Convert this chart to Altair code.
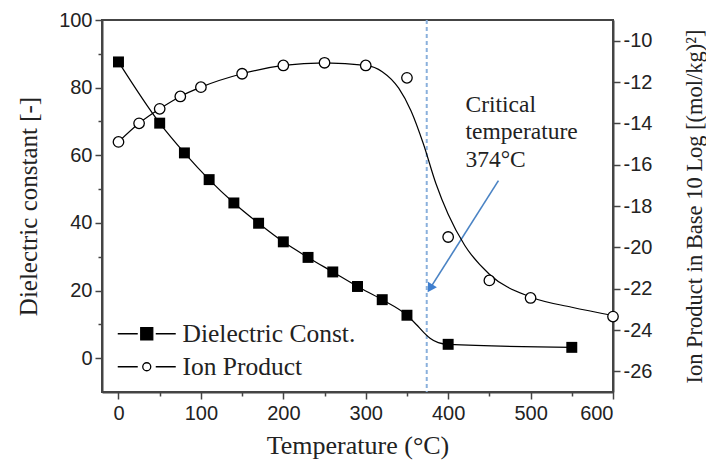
import altair as alt
import pandas as pd

# ---- data ----
diel_T = [0, 50, 80, 110, 140, 170, 200, 230, 260, 290, 320, 350, 400, 550]
diel_val = [87.6, 69.5, 60.7, 52.8, 45.9, 39.9, 34.4, 29.8, 25.5, 21.2, 17.3, 12.7, 4.1, 3.2]

# smooth fitted curve through dielectric points (extra points)
diel_curve_T = [0, 50, 80, 110, 140, 170, 200, 230, 260, 290, 320, 350, 362, 370, 378, 388, 400, 550]
diel_curve_val = [87.6, 69.5, 60.7, 52.8, 45.9, 39.9, 34.4, 29.8, 25.5, 21.2, 17.3, 12.7, 9.8, 7.7, 5.9, 4.6, 4.1, 3.2]

ion_T = [0, 25, 50, 75, 100, 150, 200, 250, 300, 350, 400, 450, 500, 600]
ion_val = [-14.9, -14.0, -13.3, -12.7, -12.25, -11.6, -11.2, -11.07, -11.2, -11.8, -19.5, -21.6, -22.45, -23.35]

ion_curve_T = [0, 25, 50, 75, 100, 150, 200, 250, 300, 320, 340, 355, 370, 385, 400, 420, 450, 500, 550, 600]
ion_curve_val = [-14.9, -14.0, -13.3, -12.7, -12.25, -11.6, -11.2, -11.07, -11.2, -11.5, -12.3, -13.4, -15.0, -16.9, -18.4, -19.9, -21.3, -22.4, -22.9, -23.3]

series_names = ["Dielectric Const.", "Ion Product"]

critical_T = [374]
annot_lines = ["Critical", "temperature", "374°C"]
annot_T = [421, 421, 421]
annot_y = [75.0, 67.0, 58.7]
arrow_T = [461]
arrow_y = [52.5]
arrow_T2 = [379]
arrow_y2 = [21.0]

# ---- tables ----
diel_pts = pd.DataFrame({"T": diel_T, "v": diel_val, "series": series_names[0]})
diel_curve = pd.DataFrame({"T": diel_curve_T, "v": diel_curve_val})
ion_pts = pd.DataFrame({"T": ion_T, "v": ion_val})
ion_curve = pd.DataFrame({"T": ion_curve_T, "v": ion_curve_val})
crit = pd.DataFrame({"T": critical_T})
annot = pd.DataFrame({"T": annot_T, "v": annot_y, "t": annot_lines})
arrow = pd.DataFrame({"T": arrow_T, "v": arrow_y, "T2": arrow_T2, "v2": arrow_y2})

SERIF = "Liberation Serif"
SANS = "Liberation Sans"
AX = "#444444"

xscale = alt.Scale(domain=[-20, 600], nice=False, zero=False)
yl_scale = alt.Scale(domain=[-10, 100], nice=False, zero=False)
yr_scale = alt.Scale(domain=[-27, -9], nice=False, zero=False)

x_axis = alt.Axis(
    orient="bottom", values=list(range(0, 601, 50)), grid=False,
    labelExpr="datum.value % 100 === 0 ? datum.label : ''",
    tickSize={"condition": {"test": "datum.value % 100 !== 0", "value": 4}, "value": 7},
    labelFont=SANS, labelFontSize=20, labelColor="#222", labelPadding=4,
    title="Temperature (°C)", titleFont=SERIF, titleFontSize=26, titleFontWeight="normal",
    titleColor="#222", titlePadding=9,
    domainColor=AX, domainWidth=2, tickColor=AX, tickWidth=1.5,
)
yl_axis = alt.Axis(
    orient="left", values=list(range(0, 101, 10)), grid=False,
    labelExpr="datum.value % 20 === 0 ? datum.label : ''",
    tickSize={"condition": {"test": "datum.value % 20 !== 0", "value": 4}, "value": 7},
    labelFont=SANS, labelFontSize=20, labelColor="#222", labelPadding=3,
    title="Dielectric constant [-]", titleFont=SERIF, titleFontSize=25, titleFontWeight="normal",
    titleColor="#222", titleX=-74, titleY=186, titleAngle=270,
    titleAlign="center", titleBaseline="middle",
    domainColor=AX, domainWidth=2, tickColor=AX, tickWidth=1.5,
)
yr_axis = alt.Axis(
    orient="right", values=list(range(-26, -9, 2)), grid=False,
    labelExpr="datum.value < 0 ? '-' + abs(datum.value) : '' + datum.value",
    tickSize=7,
    labelFont=SANS, labelFontSize=20, labelColor="#222", labelPadding=3,
    title="Ion Product in Base 10 Log [(mol/kg)²]", titleFont=SERIF, titleFontSize=22.5,
    titleFontWeight="normal", titleColor="#222", titleX=81, titleY=186, titleAngle=270,
    titleAlign="center", titleBaseline="middle",
    domainColor=AX, domainWidth=2, tickColor=AX, tickWidth=1.5,
)

X = alt.X("T:Q", scale=xscale, axis=x_axis)
YL = alt.Y("v:Q", scale=yl_scale, axis=yl_axis)
YR = alt.Y("v:Q", scale=yr_scale, axis=yr_axis)

# legend-only symbols: dash-marker-dash
sq_path = "M-2.9,0H-0.9M-0.6,-0.6H0.6V0.6H-0.6ZM0.9,0H2.9"
ci_path = "M-2.9,0H-0.9M0.4,0A0.4,0.4,0,1,1,-0.4,0A0.4,0.4,0,1,1,0.4,0ZM0.9,0H2.9"

legend = alt.Legend(
    title=None, orient="none", legendX=32, legendY=301, padding=0,
    labelFont=SERIF, labelFontSize=25.5, labelColor="#222", labelOffset=23, labelLimit=400,
    symbolSize=400, symbolStrokeWidth=1.3,
    symbolOpacity=1, rowPadding=6,
)

diel_line = alt.Chart(diel_curve).mark_line(
    color="black", strokeWidth=1.2, interpolate="monotone"
).encode(x=X, y=YL)

diel_marks = alt.Chart(diel_pts).mark_point(
    shape="square", filled=True, color="black", size=120, opacity=1
).encode(x=X, y=YL)

legend_layer = alt.Chart(diel_pts).mark_point(
    strokeWidth=1.3, opacity=0, size=400
).encode(
    x=X, y=YL,
    shape=alt.Shape("series:N", scale=alt.Scale(domain=series_names, range=[sq_path, ci_path]), legend=legend),
    fill=alt.Fill("series:N", scale=alt.Scale(domain=series_names, range=["black", "white"]), legend=legend),
    stroke=alt.Stroke("series:N", scale=alt.Scale(domain=series_names, range=["black", "black"]), legend=legend),
)

crit_rule = alt.Chart(crit).mark_rule(
    color="#8ab0dc", strokeWidth=2, strokeDash=[4, 3]
).encode(x=X)

arrow_line = alt.Chart(arrow).mark_rule(color="#4a83c4", strokeWidth=1.6).encode(
    x=X, x2="T2:Q", y=YL, y2="v2:Q",
)
arrow_head = alt.Chart(arrow).mark_point(
    shape="triangle", filled=True, color="#3f7fcf", size=110, angle=212, opacity=1
).encode(x=alt.X("T2:Q", scale=xscale, axis=x_axis), y=alt.Y("v2:Q", scale=yl_scale, axis=yl_axis))

annot_text = alt.Chart(annot).mark_text(
    font=SERIF, fontSize=23.5, color="#222", align="left", baseline="middle"
).encode(x=X, y=YL, text="t:N")

left = alt.layer(crit_rule, diel_line, diel_marks, legend_layer, arrow_line, arrow_head, annot_text)

ion_line = alt.Chart(ion_curve).mark_line(
    color="black", strokeWidth=1.2, interpolate="monotone"
).encode(x=X, y=YR)
ion_marks = alt.Chart(ion_pts).mark_point(
    shape="circle", filled=True, fill="white", stroke="black", strokeWidth=1.3, size=110, opacity=1
).encode(x=X, y=YR)

right = alt.layer(ion_line, ion_marks)

chart = alt.layer(left, right).resolve_scale(y="independent").properties(
    width=511, height=372,
    autosize=alt.AutoSizeParams(type="none"),
    padding={"left": 102, "top": 20, "right": 93, "bottom": 79},
    background="white",
).configure_view(stroke=AX, strokeWidth=2)

chart.save("out.html", embed_options={"renderer": "svg", "actions": False})
